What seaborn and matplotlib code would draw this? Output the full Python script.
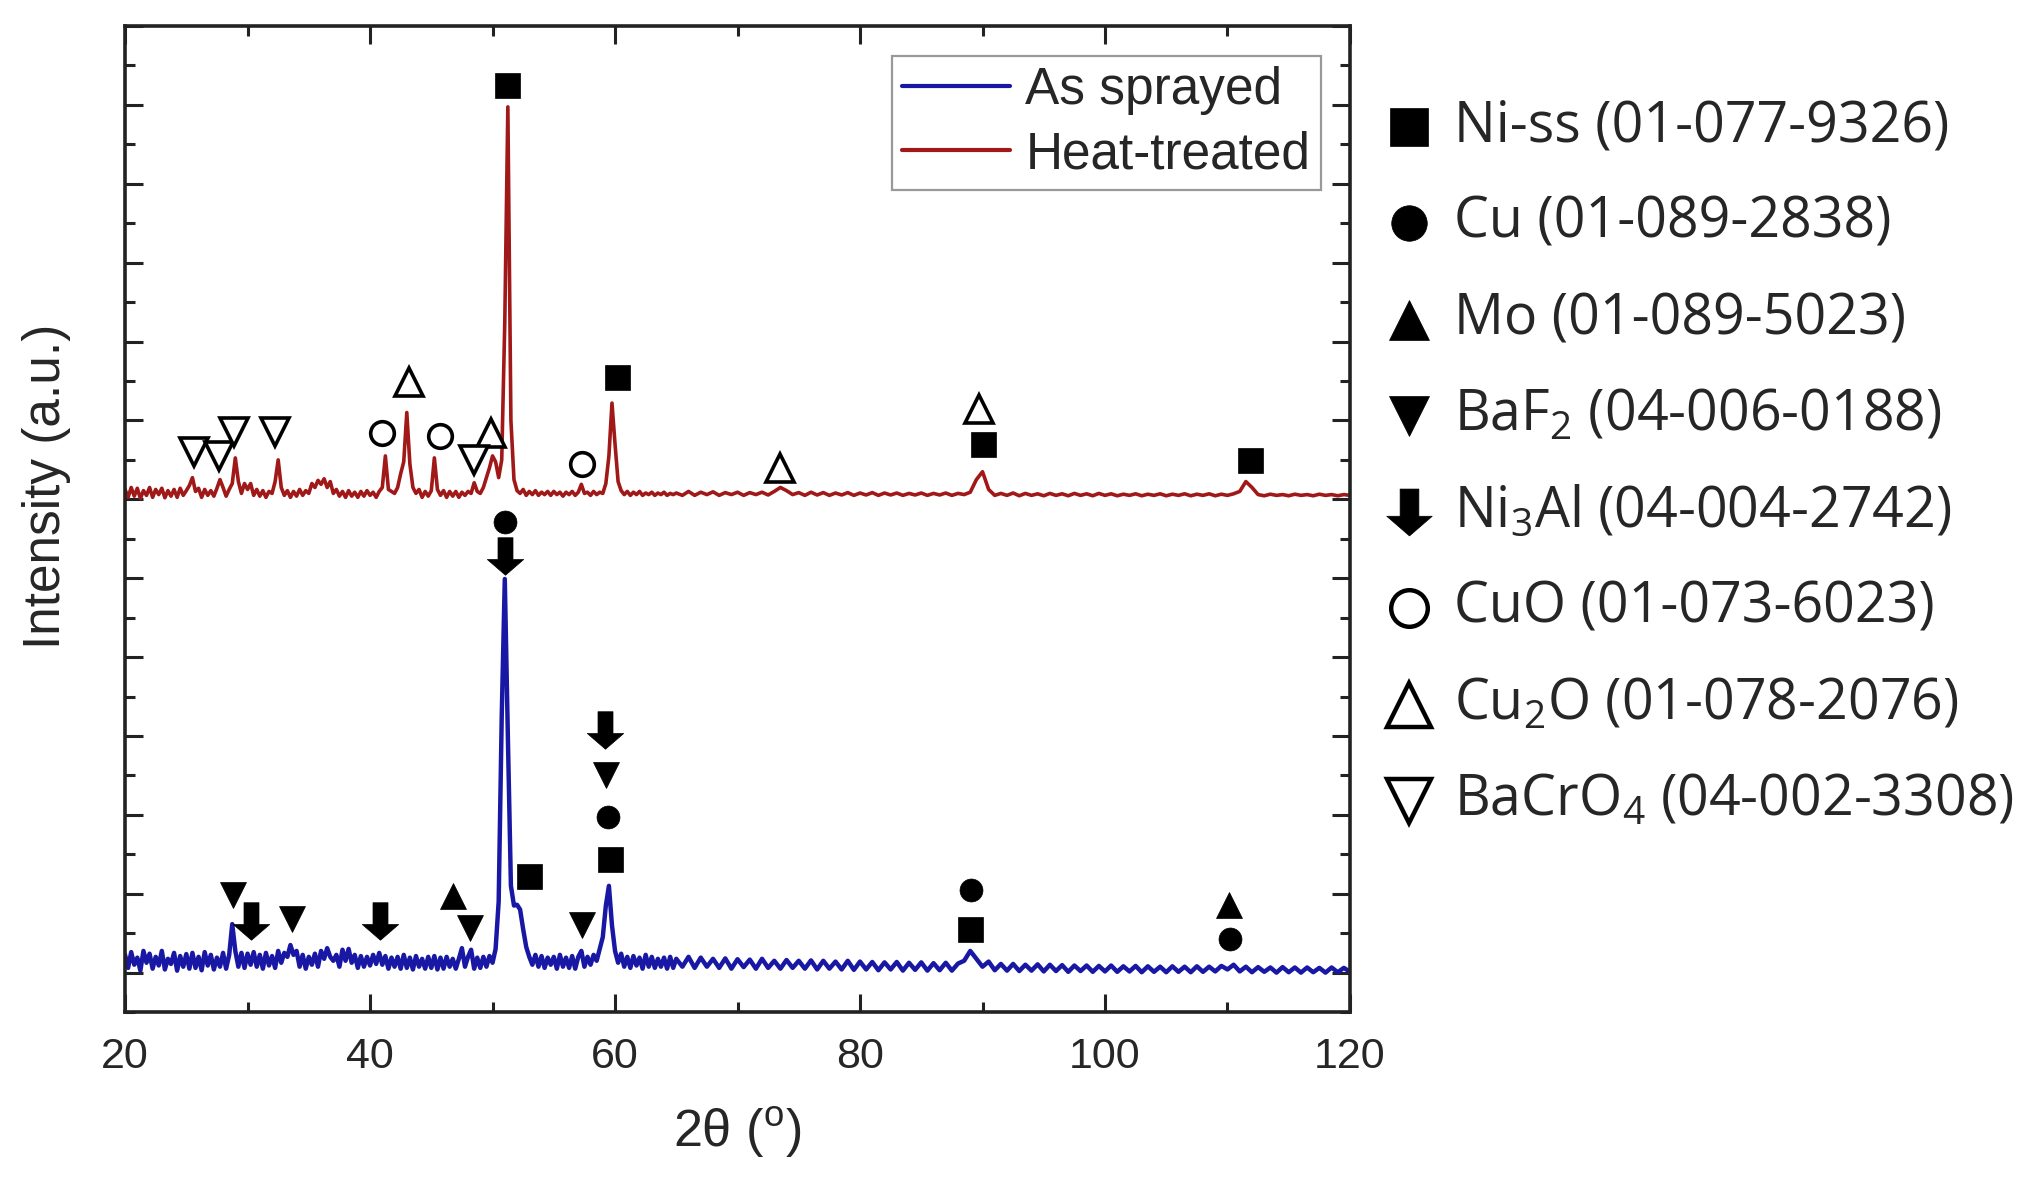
import numpy as np
import seaborn as sns
import matplotlib.pyplot as plt
from matplotlib.path import Path
from matplotlib.ticker import MultipleLocator

# 2theta sampling (deg)
two_theta_a = np.linspace(20, 65, 181)
two_theta_b = np.linspace(65.5, 120, 110)

# As sprayed pattern
sprayed_a = [
    0.45, 0.12, 0.52, 0.20,  0.38, 0.05, 0.55, 0.25,  0.48, 0.10, 0.40, 0.18,
    0.55, 0.08, 0.35, 0.22,  0.50, 0.05, 0.42, 0.15,  0.47, 0.10, 0.50, 0.12,
    0.40, 0.06, 0.52, 0.18,  0.45, 0.08, 0.38, 0.15,  0.50, 0.10, 0.45, 1.23,
    0.55, 0.15, 0.50, 0.12,  0.48, 0.20, 0.52, 0.15,  0.45, 0.10, 0.50, 0.18,
    0.42, 0.12, 0.55, 0.25,  0.50, 0.40, 0.70, 0.45,  0.55, 0.15, 0.45, 0.10,
    0.40, 0.20, 0.48, 0.15,  0.55, 0.35, 0.62, 0.40,  0.30, 0.45, 0.15, 0.58,
    0.30, 0.60, 0.25, 0.45,  0.12, 0.42, 0.15, 0.40,  0.18, 0.45, 0.22, 0.50,
    0.20, 0.42, 0.10, 0.38,  0.15, 0.40, 0.10, 0.45,  0.12, 0.38, 0.08, 0.42,
    0.15, 0.35, 0.10, 0.40,  0.12, 0.42, 0.08, 0.38,  0.10, 0.40, 0.15, 0.35,
    0.10, 0.35, 0.62, 0.15,  0.40, 0.58, 0.10, 0.38,  0.12, 0.40, 0.15, 0.42,
    0.25, 0.60, 1.80, 6.50,  9.98, 6.00, 2.20, 1.70,  1.72, 1.60, 1.10, 0.65,
    0.40, 0.20, 0.45, 0.15,  0.42, 0.12, 0.38, 0.20,  0.40, 0.10, 0.45, 0.15,
    0.38, 0.12, 0.42, 0.10,  0.40, 0.55, 0.15, 0.40,  0.20, 0.45, 0.30, 0.60,
    0.90, 1.70, 2.20, 1.20,  0.55, 0.25, 0.48, 0.15,  0.40, 0.12, 0.42, 0.18,
    0.38, 0.10, 0.45, 0.15,  0.40, 0.12, 0.35, 0.15,  0.38, 0.10, 0.40, 0.12,
    0.35,
]
sprayed_b = [
    0.15, 0.40, 0.12, 0.38, 0.15, 0.35, 0.12, 0.36, 0.10, 0.34,
    0.14, 0.33, 0.10, 0.35, 0.12, 0.30, 0.10, 0.32, 0.12, 0.30,
    0.10, 0.31, 0.08, 0.30, 0.10, 0.28, 0.08, 0.30, 0.07, 0.28,
    0.08, 0.27, 0.06, 0.26, 0.08, 0.27, 0.05, 0.25, 0.07, 0.26,
    0.05, 0.24, 0.06, 0.25, 0.05, 0.23, 0.30, 0.55, 0.35, 0.15,
    0.28, 0.06, 0.22, 0.05, 0.22, 0.04, 0.20, 0.05, 0.21, 0.03,
    0.20, 0.04, 0.19, 0.02, 0.18, 0.04, 0.18, 0.02, 0.17, 0.03,
    0.18, 0.02, 0.16, 0.03, 0.17, 0.01, 0.16, 0.02, 0.15, 0.01,
    0.16, 0.02, 0.15, 0.01, 0.16, 0.02, 0.15, 0.03, 0.17, 0.08,
    0.20, 0.03, 0.15, 0.01, 0.14, 0.02, 0.13, 0.00, 0.14, 0.01,
    0.13, 0.00, 0.13, 0.01, 0.12, 0.00, 0.13, 0.01, 0.12, 0.02,
]

# Heat-treated pattern (offset upwards in the original plot)
heat_a = [
    12.25, 12.05, 12.30, 12.08,  12.28, 12.02, 12.22, 12.10,  12.30, 12.05, 12.25, 12.12,
    12.28, 12.04, 12.22, 12.08,  12.25, 12.05, 12.28, 12.10,  12.22, 12.35, 12.55, 12.20,
    12.28, 12.05, 12.25, 12.10,  12.22, 12.08, 12.28, 12.50,  12.30, 12.08, 12.25, 12.40,
    13.05, 12.45, 12.15, 12.40,  12.25, 12.40, 12.10, 12.25,  12.08, 12.22, 12.05, 12.20,
    12.15, 12.45, 13.00, 12.30,  12.10, 12.22, 12.05, 12.20,  12.08, 12.25, 12.10, 12.22,
    12.15, 12.40, 12.30, 12.48,  12.38, 12.52, 12.30, 12.45,  12.15, 12.25, 12.08, 12.20,
    12.05, 12.22, 12.08, 12.18,  12.05, 12.20, 12.08, 12.22,  12.10, 12.18, 12.05, 12.20,
    12.30, 13.10, 12.25, 12.20,  12.15, 12.30, 12.65, 12.95,  14.20, 12.90, 12.30, 12.15,
    12.25, 12.05, 12.20, 12.08,  12.22, 13.05, 12.25, 12.10,  12.22, 12.05, 12.20, 12.08,
    12.20, 12.05, 12.18, 12.10,  12.20, 12.15, 12.42, 12.20,  12.15, 12.30, 12.55, 12.80,
    13.10, 12.95, 12.55, 13.00,  16.50, 21.95, 14.00, 12.50,  12.22, 12.15, 12.25, 12.10,
    12.20, 12.12, 12.22, 12.10,  12.18, 12.12, 12.20, 12.10,  12.20, 12.12, 12.18, 12.08,
    12.18, 12.12, 12.20, 12.10,  12.18, 12.38, 12.15, 12.18,  12.10, 12.20, 12.12, 12.18,
    12.15, 12.40, 13.10, 14.44,  13.40, 12.45, 12.22, 12.12,  12.20, 12.10, 12.18, 12.12,
    12.20, 12.10, 12.16, 12.12,  12.18, 12.10, 12.16, 12.12,  12.18, 12.10, 12.15, 12.12,
    12.16,
]
heat_b = [
    12.10, 12.20, 12.10, 12.18, 12.12, 12.19, 12.10, 12.17, 12.12, 12.18,
    12.10, 12.17, 12.12, 12.18, 12.11, 12.20, 12.30, 12.22, 12.12, 12.17,
    12.10, 12.18, 12.11, 12.17, 12.10, 12.16, 12.11, 12.17, 12.10, 12.16,
    12.11, 12.17, 12.10, 12.16, 12.11, 12.16, 12.10, 12.15, 12.11, 12.16,
    12.10, 12.15, 12.11, 12.16, 12.10, 12.15, 12.12, 12.18, 12.50, 12.70,
    12.25, 12.10, 12.15, 12.10, 12.16, 12.09, 12.15, 12.10, 12.14, 12.09,
    12.15, 12.10, 12.14, 12.09, 12.15, 12.10, 12.14, 12.09, 12.15, 12.10,
    12.14, 12.09, 12.13, 12.10, 12.14, 12.09, 12.13, 12.10, 12.14, 12.09,
    12.13, 12.10, 12.14, 12.09, 12.13, 12.10, 12.14, 12.09, 12.13, 12.10,
    12.14, 12.20, 12.45, 12.30, 12.12, 12.09, 12.13, 12.10, 12.12, 12.09,
    12.13, 12.10, 12.12, 12.09, 12.13, 12.10, 12.12, 12.09, 12.12, 12.10,
]

# phase identification marks (2theta, height)
nis_x = [51.2, 60.2, 90.0, 111.8, 53.0, 59.6, 89.0]
nis_y = [22.5, 15.1, 13.4, 13.0, 2.44, 2.87, 1.1]
cu_x = [51.0, 59.45, 89.1, 110.2]
cu_y = [11.43, 3.95, 2.1, 0.84]
mo_x = [46.8, 110.1]
mo_y = [1.95, 1.72]
baf2_x = [28.8, 33.6, 48.2, 57.3, 59.3]
baf2_y = [1.98, 1.36, 1.13, 1.2, 5.0]
ni3al_x = [51.0, 59.2, 30.3, 40.8]
ni3al_y = [10.57, 6.15, 1.3, 1.3]
cuo_x = [41.0, 45.7, 57.3]
cuo_y = [13.69, 13.6, 12.9]
cu2o_x = [43.2, 49.9, 73.5, 89.7]
cu2o_y = [14.97, 13.69, 12.8, 14.3]
bacro4_x = [25.6, 27.7, 28.9, 32.2, 48.5]
bacro4_y = [13.2, 13.1, 13.7, 13.7, 13.0]

phase_labels = [
    "Ni-ss (01-077-9326)",
    "Cu (01-089-2838)",
    "Mo (01-089-5023)",
    r"BaF$_{\mathregular{2}}$ (04-006-0188)",
    r"Ni$_{\mathregular{3}}$Al (04-004-2742)",
    "CuO (01-073-6023)",
    r"Cu$_{\mathregular{2}}$O (01-078-2076)",
    r"BaCrO$_{\mathregular{4}}$ (04-002-3308)",
]

sns.set_theme(style="ticks")
plt.rcParams["font.family"] = ["Liberation Sans", "DejaVu Sans"]

blue = "#1818a4"
red = "#a01818"

# thick down arrow used for Ni3Al
arrow = Path([(-0.4, 1), (0.4, 1), (0.4, -0.16), (0.97, -0.16), (0, -1),
              (-0.97, -0.16), (-0.4, -0.16), (-0.4, 1)], closed=True)

fig = plt.figure(figsize=(20.27, 11.88), dpi=100)
ax = fig.add_axes([0.0617, 0.1481, 0.6043, 0.83])

sns.lineplot(x=np.concatenate([two_theta_a, two_theta_b]),
             y=np.concatenate([sprayed_a, sprayed_b]),
             ax=ax, color=blue, lw=3.2, estimator=None, sort=False, label="As sprayed")
sns.lineplot(x=np.concatenate([two_theta_a, two_theta_b]),
             y=np.concatenate([heat_a, heat_b]),
             ax=ax, color=red, lw=2.6, estimator=None, sort=False, label="Heat-treated")

# markers
styles = [
    (nis_x, nis_y, "s", 18, "black"),
    (cu_x, cu_y, "o", 16.5, "black"),
    (mo_x, mo_y, "^", 19, "black"),
    (baf2_x, baf2_y, "v", 19, "black"),
    (ni3al_x, ni3al_y, arrow, 27, "black"),
    (cuo_x, cuo_y, "o", 17, "white"),
    (cu2o_x, cu2o_y, "^", 20, "white"),
    (bacro4_x, bacro4_y, "v", 20, "white"),
]
for xs, ys, m, ms, fc in styles:
    ax.plot(xs, ys, ls="none", marker=m, ms=ms, mfc=fc, mec="black",
            mew=2.6 if fc == "white" else 0.5, zorder=5)

ax.set_xlim(20, 120)
ax.set_ylim(-1, 24)
ax.xaxis.set_major_locator(MultipleLocator(20))
ax.xaxis.set_minor_locator(MultipleLocator(10))
ax.yaxis.set_major_locator(MultipleLocator(2))
ax.yaxis.set_minor_locator(MultipleLocator(1))
ax.tick_params(which="both", direction="in", top=True, right=True, width=2.2, color="#222222")
ax.tick_params(which="major", length=13)
ax.tick_params(which="minor", length=7)
ax.tick_params(axis="x", labelsize=31, pad=18)
ax.tick_params(axis="y", labelleft=False)
for sp in ax.spines.values():
    sp.set_linewidth(2.6)
    sp.set_color("#222222")

ax.set_xlabel("2θ (" + r"$^{\mathregular{o}}$" + ")", fontsize=37.5, labelpad=20)
ax.set_ylabel("Intensity (a.u.)", fontsize=37)
ax.yaxis.set_label_coords(-0.044, 0.533)

leg = ax.legend(loc="upper right", bbox_to_anchor=(0.976, 0.97), fontsize=37,
                frameon=True, fancybox=False, edgecolor="#999999", framealpha=1,
                handlelength=2.1, handletextpad=0.3, labelspacing=0.3, borderpad=0.2,
                borderaxespad=0)
leg.get_frame().set_linewidth(1.6)
for line in leg.get_lines():
    line.set_linewidth(3)

# phase key on the right
kax = fig.add_axes([0.68, 0.2854, 0.32, 0.648])
kax.set_xlim(0, 1)
kax.set_ylim(8.5, 0.5)
kax.axis("off")
for i, (st, lab) in enumerate(zip(styles, phase_labels)):
    _, _, m, ms, fc = st
    scale = 1.25 if m is arrow else 1.55
    kax.plot([0.047], [i + 1], ls="none", marker=m, ms=ms * scale, mfc=fc, mec="black",
             mew=3.2 if fc == "white" else 0.5)
    kax.text(0.1166, i + 1, lab, fontsize=40, va="center", ha="left",
             family=["Open Sans", "DejaVu Sans"])

plt.savefig("out.png", dpi=100)
